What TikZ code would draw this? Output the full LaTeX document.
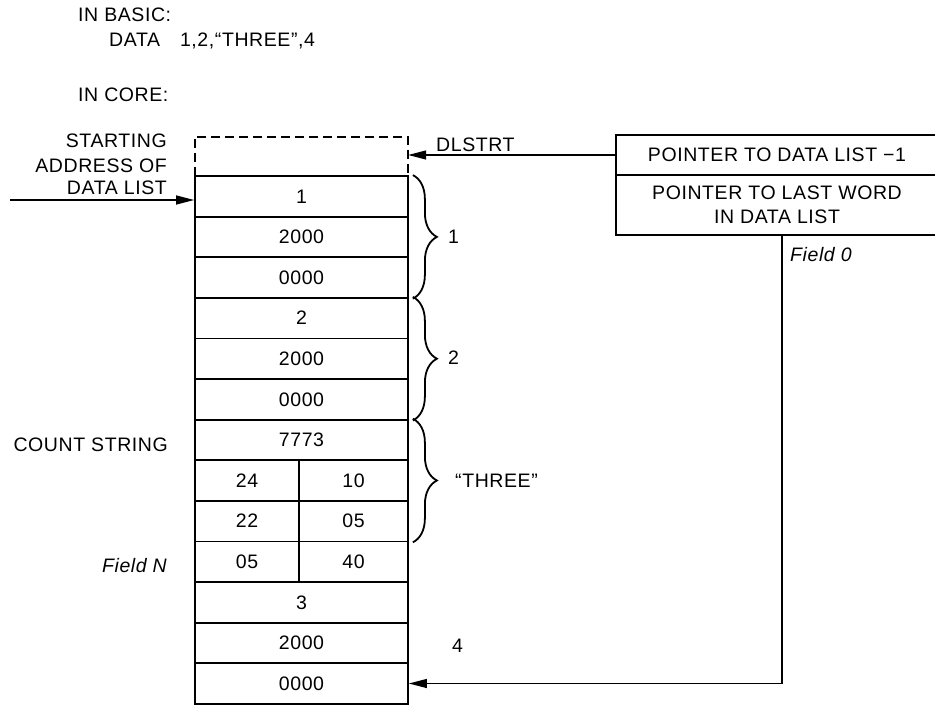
\documentclass[tikz,border=0pt]{standalone}
\usepackage{fontspec}
\setmainfont{Liberation Sans}[LetterSpace=3]
\usetikzlibrary{arrows.meta,decorations.pathreplacing}
\begin{document}
\begin{tikzpicture}[x=1pt,y=-1pt,
  font=\fontsize{19.5}{24}\selectfont,
  cell/.style={draw,line width=1.8pt,minimum width=213pt,minimum height=40.6pt,inner sep=0pt,anchor=center},
  lcell/.style={cell,minimum width=104pt},
  rcell/.style={cell,minimum width=109pt},
  lbl/.style={inner sep=0pt},
  arr/.style={line width=1.3pt,-{Triangle[length=18pt,width=9pt]}},
  brc/.style={decorate,decoration={brace,amplitude=24pt},line width=1.8pt},
  ptr/.style={draw,line width=1.8pt,inner sep=0pt,minimum width=322pt,align=center}
]
\useasboundingbox (0,0) rectangle (935,706);

% top texts
\node[lbl,anchor=base west] (basic) at (78,22) {IN BASIC:};
\node[lbl,anchor=base west] (data) at (109,47) {DATA\hspace{20pt}1,2,“THREE”,4};
\node[lbl,anchor=base west] (core) at (78,102) {IN CORE:};
\node[lbl,anchor=base east] (st1) at (167,148) {STARTING};
\node[lbl,anchor=base east] (st2) at (167,172) {ADDRESS OF};
\node[lbl,anchor=base east] (st3) at (167,194) {DATA LIST};
\node[lbl,anchor=base east] (count) at (168,451) {COUNT STRING};
\node[lbl,anchor=base east] (fieldN) at (167,572) {\itshape Field N};

% dashed box
\node[minimum width=213pt,minimum height=39pt,inner sep=0pt] (dash) at (301.5,156.5) {};
\draw[line width=1.8pt,dash pattern=on 9pt off 5pt] (dash.south west) -- (dash.north west) -- (dash.north east) -- (dash.south east);

% cells
\node[cell] (r1) at (301.5,196.3) {1};
\node[cell] (r2) at (301.5,236.9) {2000};
\node[cell] (r3) at (301.5,277.5) {0000};
\node[cell] (r4) at (301.5,318.1) {2};
\node[cell] (r5) at (301.5,358.7) {2000};
\node[cell] (r6) at (301.5,399.3) {0000};
\node[cell] (r7) at (301.5,439.9) {7773};
\node[lcell] (r8a) at (247,480.5) {24};
\node[rcell] (r8b) at (353.5,480.5) {10};
\node[lcell] (r9a) at (247,521.1) {22};
\node[rcell] (r9b) at (353.5,521.1) {05};
\node[lcell] (r10a) at (247,561.7) {05};
\node[rcell] (r10b) at (353.5,561.7) {40};
\node[cell] (r11) at (301.5,602.3) {3};
\node[cell] (r12) at (301.5,642.9) {2000};
\node[cell] (r13) at (301.5,683.5) {0000};

% pointer boxes
\node[ptr,minimum height=40pt] (p1) at (777,155) {POINTER TO DATA LIST −1};
\node[ptr,minimum height=60pt] (p2) at (777,205) {POINTER TO LAST WORD\\IN DATA LIST};
\node[lbl,anchor=base west] (field0) at (790,261) {\itshape Field 0};
\node[lbl,anchor=base west] (dlstrt) at (436,152) {DLSTRT};

% braces
\draw[brc] ([xshift=4pt]r1.north east) -- ([xshift=4pt]r3.south east);
\draw[brc] ([xshift=4pt]r4.north east) -- ([xshift=4pt]r6.south east);
\draw[brc] ([xshift=4pt]r7.north east) -- ([xshift=4pt]r9b.south east);
\node[lbl,anchor=west] (b1) at (448,237) {1};
\node[lbl,anchor=west] (b2) at (448,358) {2};
\node[lbl,anchor=west] (b3) at (455,481) {“THREE”};
\node[lbl,anchor=west] (b4) at (452,646) {4};

% connectors
\coordinate (inarr) at (10,200);
\draw[arr] (inarr) -- (inarr -| r1.west);
\draw[arr] (p1.west) -- (p1.west -| dash.east);
\coordinate (f0top) at (782,235);
\draw[arr] (f0top) |- (r13.east);
\end{tikzpicture}
\end{document}
